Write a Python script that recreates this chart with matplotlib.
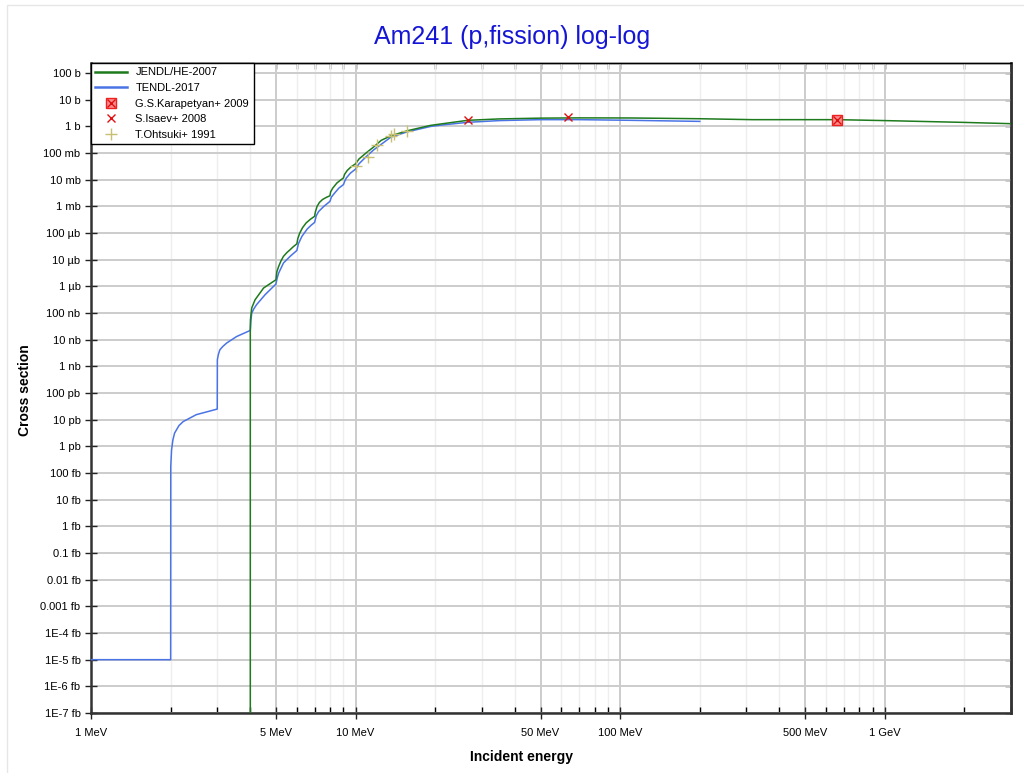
import numpy as np
import matplotlib
matplotlib.use("Agg")
import matplotlib.pyplot as plt
from matplotlib.ticker import FixedLocator, FixedFormatter, NullLocator, NullFormatter
from matplotlib.legend_handler import HandlerTuple
from matplotlib.patches import Rectangle

plt.rcParams['font.family'] = ['Liberation Sans', 'DejaVu Sans']

# JENDL/HE-2007 evaluation: energy in MeV, log10 of cross section in barns
jendl_e = [4.0, 4.0, 4.005, 4.05, 4.17, 4.49, 5.0, 5.04, 5.12, 5.22, 5.34, 5.5, 5.66, 5.8,
           6.0, 6.05, 6.15, 6.3, 6.5, 6.75, 7.0, 7.05, 7.15, 7.3, 7.5, 7.75, 8.0, 8.05,
           8.2, 8.5, 8.75, 9.0, 9.08, 9.3, 9.6, 10.0, 10.3, 11.0, 11.7, 12.5, 13.6,
           15.7, 19.2, 21.0, 26.5, 35.0, 50.0, 70.0, 110.0, 200.0, 316.0, 500.0, 660.0,
           1000.0, 2000.0, 3000.0]
jendl_logxs = [-25, -7.65, -7.25, -6.81, -6.50, -6.06, -5.75, -5.45, -5.25, -5.05, -4.87,
               -4.73, -4.62, -4.52, -4.40, -4.20, -4.00, -3.80, -3.62, -3.48, -3.37, -3.20,
               -3.00, -2.85, -2.74, -2.66, -2.60, -2.45, -2.31, -2.12, -2.02, -1.93, -1.80,
               -1.65, -1.52, -1.40, -1.22, -0.98, -0.77, -0.52, -0.35, -0.16, 0.04, 0.093,
               0.23, 0.283, 0.312, 0.322, 0.318, 0.29, 0.255, 0.255, 0.255, 0.22, 0.152,
               0.104]

# TENDL-2017 evaluation
tendl_e = [1.0, 2.0, 2.002, 2.016, 2.04, 2.07, 2.15, 2.23, 2.5, 3.0, 3.003, 3.03, 3.07,
           3.15, 3.26, 3.55, 4.0, 4.02, 4.05, 4.12, 4.22, 4.55, 5.0, 5.05, 5.12, 5.34,
           5.66, 6.0, 6.08, 6.27, 6.56, 6.8, 7.0, 7.1, 7.25, 7.58, 8.0, 8.1, 8.33, 8.65,
           9.0, 9.1, 9.23, 9.56, 10.0, 10.3, 11.0, 11.7, 13.6, 15.7, 19.2, 21.0, 26.5,
           35.0, 50.0, 70.0, 110.0, 200.0]
tendl_logxs = [-20, -20, -12.75, -12.13, -11.75, -11.50, -11.22, -11.07, -10.81, -10.60,
               -8.75, -8.55, -8.375, -8.25, -8.12, -7.88, -7.65, -7.30, -7.00, -6.85, -6.69,
               -6.31, -5.91, -5.70, -5.50, -5.12, -4.87, -4.65, -4.40, -4.12, -3.85, -3.70,
               -3.60, -3.35, -3.19, -3.00, -2.81, -2.65, -2.50, -2.31, -2.18, -2.05, -1.93,
               -1.75, -1.60, -1.40, -1.12, -0.88, -0.40, -0.20, 0.0, 0.05, 0.155, 0.22,
               0.255, 0.255, 0.23, 0.19]

# experimental data (MeV, barns)
karapetyan_e = [660.0]
karapetyan_xs = [1.8]
isaev_e = [26.5, 63.5]
isaev_xs = [1.7, 2.3]
ohtsuki_e = [10.0, 11.1, 12.1, 13.6, 14.0, 15.7]
ohtsuki_xs = [0.032, 0.072, 0.20, 0.44, 0.50, 0.68]

x_ticks = [1, 5, 10, 50, 100, 500, 1000]
x_labels = ['1 MeV', '5 MeV', '10 MeV', '50 MeV', '100 MeV', '500 MeV', '1 GeV']
x_minor = [2, 3, 4, 6, 7, 8, 9, 20, 30, 40, 60, 70, 80, 90,
           200, 300, 400, 600, 700, 800, 900, 2000, 3000]
y_labels = ['1E-7 fb', '1E-6 fb', '1E-5 fb', '1E-4 fb', '0.001 fb', '0.01 fb', '0.1 fb',
            '1 fb', '10 fb', '100 fb', '1 pb', '10 pb', '100 pb', '1 nb', '10 nb', '100 nb',
            '1 µb', '10 µb', '100 µb', '1 mb', '10 mb', '100 mb', '1 b', '10 b', '100 b']
y_ticks = [10.0 ** p for p in range(-22, 3)]

fig = plt.figure(figsize=(10.24, 7.73), dpi=100)
fig.patches.append(Rectangle((7 / 1024, -0.1), 1.2, 1.1 - 5 / 773, transform=fig.transFigure,
                             fill=False, edgecolor='#e6e6e6', lw=1))
ax = fig.add_axes([91 / 1024, 60 / 773, 920 / 1024, 650 / 773])

ax.plot(jendl_e, np.power(10.0, jendl_logxs), color='#1d7a1d', lw=1.1, zorder=4)
ax.plot(tendl_e, np.power(10.0, tendl_logxs), color='#4a74e6', lw=1.1, zorder=3)
sq, = ax.plot(karapetyan_e, karapetyan_xs, 's', ms=7, mfc='#ff8c8c', mec='#ee2020', mew=1, zorder=5)
kx, = ax.plot(karapetyan_e, karapetyan_xs, 'x', ms=6, color='#dd1010', mew=1, zorder=6)
isx, = ax.plot(isaev_e, isaev_xs, 'x', ms=6, color='#e01010', mew=1, zorder=6)
ohp, = ax.plot(ohtsuki_e, ohtsuki_xs, '+', ms=9, color='#c8c070', mew=1, zorder=6)

ax.set_xscale('log')
ax.set_yscale('log')
ax.set_xlim(1, 3000)
ax.set_ylim(1e-22, 240)

ax.xaxis.set_major_locator(FixedLocator(x_ticks))
ax.xaxis.set_major_formatter(FixedFormatter(x_labels))
ax.xaxis.set_minor_locator(FixedLocator(x_minor))
ax.yaxis.set_major_locator(FixedLocator(y_ticks))
ax.yaxis.set_major_formatter(FixedFormatter(y_labels))
ax.yaxis.set_minor_locator(NullLocator())

ax.tick_params(which='major', direction='inout', length=9, width=1, labelsize=8,
               color='#222222')
ax.tick_params(which='minor', direction='in', length=4, width=1)
ax.tick_params(axis='x', which='major', pad=6)
ax.tick_params(axis='y', which='major', pad=3)

# inward ticks on top and right
top = ax.secondary_xaxis('top')
top.xaxis.set_major_locator(FixedLocator(x_ticks + x_minor))
top.xaxis.set_major_formatter(NullFormatter())
top.xaxis.set_minor_locator(NullLocator())
top.tick_params(direction='in', length=4, width=1)
right = ax.secondary_yaxis('right')
right.yaxis.set_major_locator(FixedLocator(y_ticks))
right.yaxis.set_major_formatter(NullFormatter())
right.yaxis.set_minor_locator(NullLocator())
right.tick_params(direction='in', length=4, width=1)
top.spines['top'].set_linewidth(1)
right.spines['right'].set_linewidth(1.8)
right.spines['right'].set_color('#333333')

ax.grid(which='major', color='#cccccc', lw=1.4)
ax.grid(which='minor', axis='x', color='#eeeeee', lw=1)
ax.set_axisbelow(True)

for s in ['left', 'bottom', 'right']:
    ax.spines[s].set_linewidth(1.8)
    ax.spines[s].set_color('#333333')
ax.spines['top'].set_linewidth(1)
ax.spines['top'].set_color('black')

leg = ax.legend(handles=[ax.lines[0], ax.lines[1], (sq, kx), isx, ohp],
                labels=['JENDL/HE-2007', 'TENDL-2017', 'G.S.Karapetyan+ 2009',
                        'S.Isaev+ 2008', 'T.Ohtsuki+ 1991'],
                handler_map={tuple: HandlerTuple(ndivide=1)},
                loc='upper left', borderaxespad=0, fontsize=8, fancybox=False,
                edgecolor='black', framealpha=1, labelspacing=0.5, handlelength=2.8)
leg.get_frame().set_linewidth(1)
leg.set_zorder(10)
for line in leg.get_lines()[:2]:
    line.set_linewidth(1.8)

fig.text(0.5, 1 - 37 / 773, 'Am241 (p,fission) log-log', color='#1515d5', fontsize=18,
         ha='center', va='center')
fig.text(522 / 1024, 1 - 757 / 773, 'Incident energy', fontsize=10, fontweight='bold',
         ha='center', va='center')
fig.text(25 / 1024, 1 - 390 / 773, 'Cross section', fontsize=10, fontweight='bold',
         rotation=90, ha='center', va='center')

fig.savefig('out.png', dpi=100)
